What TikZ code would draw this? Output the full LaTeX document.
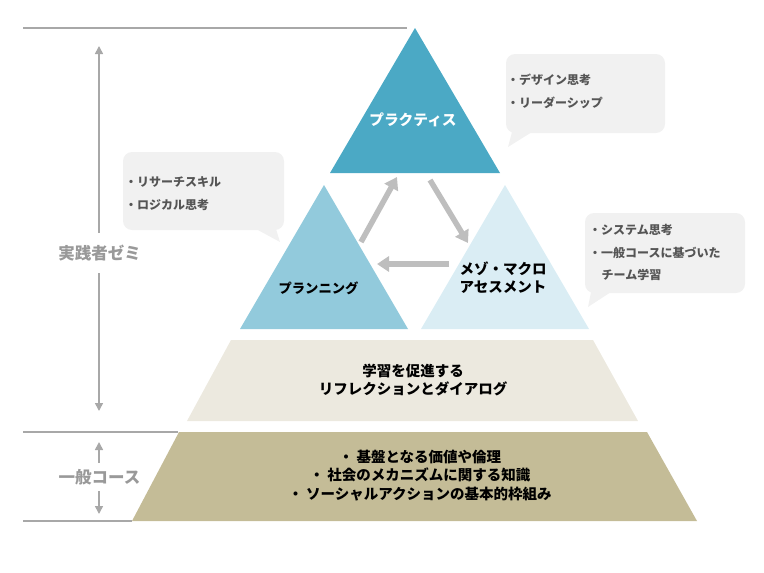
\documentclass[tikz,border=0pt]{standalone}
\usepackage{fontspec}
\setmainfont{Noto Sans CJK JP}
\usetikzlibrary{arrows.meta}
\definecolor{cPrac}{HTML}{4BA9C5}
\definecolor{cPlan}{HTML}{92CADC}
\definecolor{cMeso}{HTML}{DAEDF4}
\definecolor{cTrapA}{HTML}{ECE9DF}
\definecolor{cTrapB}{HTML}{C4BC97}
\definecolor{cAxis}{HTML}{A8A8A8}
\definecolor{cArr}{HTML}{BEBEBE}
\definecolor{cBub}{HTML}{F1F1F1}
\definecolor{cBubTxt}{HTML}{555555}
\definecolor{cLab}{HTML}{999999}
\tikzset{
  axisline/.style={draw=cAxis, line width=1.6pt},
  axarrow/.style={axisline, -{Triangle[width=8pt,length=8pt]}},
  cycarrow/.style={draw=cArr, line width=5.5pt, -{Triangle[width=15pt,length=12pt]}},
  maintext/.style={font=\bfseries\fontsize{#1}{18.5}\selectfont, align=center, inner sep=0pt},
  bubble/.style={fill=cBub, rounded corners=9pt},
  bubtail/.style={fill=cBub},
  bubtext/.style={font=\bfseries\fontsize{12}{14}\selectfont, text=cBubTxt, anchor=west, inner sep=0pt},
  sidelabel/.style={font=\bfseries\fontsize{16.5}{18}\selectfont, text=cLab, inner sep=0pt},
}
\begin{document}
\begin{tikzpicture}[x=1pt,y=-1pt]
\useasboundingbox (0,0) rectangle (764,573);
% pyramid levels
\fill[cTrapB] (179,432) -- (647,432) -- (697,521) -- (132,521) -- cycle;
\fill[cTrapA] (231,340) -- (593,340) -- (638,421) -- (187,421) -- cycle;
\fill[cPrac] (415,28) -- (330,173) -- (500,173) -- cycle;
\fill[cPlan] (324,185) -- (240,329) -- (408,329) -- cycle;
\fill[cMeso] (505,185) -- (421,329) -- (589,329) -- cycle;
% cycle arrow anchors
\coordinate (planOut) at (361,242);
\coordinate (pracIn) at (397,177);
\coordinate (pracOut) at (430,180);
\coordinate (mesoIn) at (468,243);
\coordinate (mesoOut) at (449,264);
\coordinate (planIn) at (377,264);
\draw[cycarrow] (planOut) -- (pracIn);
\draw[cycarrow] (pracOut) -- (mesoIn);
\draw[cycarrow] (mesoOut) -- (planIn);
% texts in pyramid
\node[maintext=14.7, text=white] (prac) at (413,120) {プラクティス};
\node[maintext=13.3] (plan) at (318.5,288) {プランニング};
\node[maintext=14.5] (meso) at (503,277.5) {メゾ・マクロ\\アセスメント};
\node[maintext=14.5] (refl) at (413,380) {学習を促進する\\リフレクションとダイアログ};
\node[maintext=14.5] (gen) at (420,475.5) {・ 基盤となる価値や倫理\\・ 社会のメカニズムに関する知識\\・ ソーシャルアクションの基本的枠組み};
% bubbles
\fill[bubble] (123,152) rectangle (284,230);
\fill[bubtail] (256,229) -- (280,242) -- (276,229) -- cycle;
\node[bubtext] (b1a) at (125,182) {・リサーチスキル};
\node[bubtext] (b1b) at (125,205) {・ロジカル思考};
\fill[bubble] (506,54) rectangle (665,133);
\fill[bubtail] (512,132) -- (508,147) -- (532,132) -- cycle;
\node[bubtext] (b2a) at (507,80) {・デザイン思考};
\node[bubtext] (b2b) at (507,103) {・リーダーシップ};
\fill[bubble] (585,213) rectangle (745,293);
\fill[bubtail] (591,292) -- (588,307) -- (611,292) -- cycle;
\node[bubtext] (b3a) at (589,230) {・システム思考};
\node[bubtext] (b3b) at (589,253) {・一般コースに基づいた};
\node[bubtext] (b3c) at (601.5,275) {チーム学習};
% left axis
\coordinate (t1) at (23,28);
\coordinate (t2) at (407,28);
\coordinate (m1) at (23,432);
\coordinate (m2) at (178,432);
\coordinate (u1) at (23,521);
\coordinate (u2) at (132,521);
\draw[axisline] (t1) -- (t2);
\draw[axisline] (m1) -- (m2);
\draw[axisline] (u1) -- (u2);
\node[sidelabel] (zemi) at (99.5,253) {実践者ゼミ};
\node[sidelabel] (ippan) at (99.5,477) {一般コース};
\coordinate (zTop) at (99,46);
\coordinate (zBot) at (99,411);
\coordinate (gTop) at (99,442);
\coordinate (gBot) at (99,514);
\draw[axarrow] (99,233) -- (zTop);
\draw[axarrow] (99,273) -- (zBot);
\draw[axarrow] (99,463) -- (gTop);
\draw[axarrow] (99,491) -- (gBot);
\end{tikzpicture}
\end{document}
